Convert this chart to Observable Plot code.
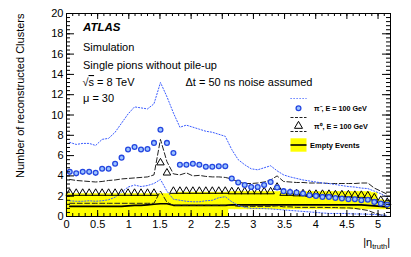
<!DOCTYPE html>
<html><head><meta charset="utf-8">
<script src="https://cdn.jsdelivr.net/npm/d3@7"></script>
<script src="https://cdn.jsdelivr.net/npm/@observablehq/plot@0.6"></script>
<style>html,body{margin:0;padding:0;background:#fff;} #chart{width:411px;height:257px;overflow:hidden}</style>
</head><body><div id="chart"></div>
<script>
// |eta_truth| bin centres (50 bins, 0 .. 5.2)
const eta = [0.052,0.156,0.26,0.364,0.468,0.572,0.676,0.78,0.884,0.988,1.092,1.196,1.3,1.404,1.508,1.612,1.716,1.82,1.924,2.028,2.132,2.236,2.34,2.444,2.548,2.652,2.756,2.86,2.964,3.068,3.172,3.276,3.38,3.484,3.588,3.692,3.796,3.9,4.004,4.108,4.212,4.316,4.42,4.524,4.628,4.732,4.836,4.94,5.044,5.148];
const halfBin = 0.052;
// pi-, E = 100 GeV : mean and +/- RMS lines
const piMean = [4.4,4.25,4.4,4.4,4.3,4.7,4.7,5.2,5.8,6.6, 6.85,6.6,6.65,7.25,8.55,7.25,6.25,5.1,5.1,5.2, 5.1,4.9,4.9,4.95,4.95,3.75,3.35,3.1,2.9,2.9, 3.1,3.4,2.85,2.5,2.42,2.36,2.27,2.1,2.03,1.93, 1.93,1.83,1.77,1.7,1.7,1.6,1.65,1.44,1.28,1.18];
const piHi = [7.3,7.1,7.2,7.2,7.0,7.6,7.7,8.3,9.2,10.1, 10.8,10.7,10.6,11.1,13.2,11.8,10.2,8.8,9.0,8.8, 8.6,8.4,8.3,8.1,7.9,6.6,5.6,5.1,4.7,4.6, 4.8,5.0,4.5,4.1,3.9,3.75,3.6,3.5,3.4,3.3, 3.25,3.15,3.05,2.95,2.9,2.8,2.75,2.5,2.25,1.9];
const piLo = [1.55,1.5,1.5,1.55,1.5,1.55,1.65,1.9,2.4,2.9, 3.1,2.95,3.05,3.25,3.65,2.5,1.7,1.6,1.5,1.45, 1.45,1.55,1.6,1.85,1.95,1.45,1.1,0.9,0.8,0.8, 0.78,0.75,0.7,0.65,0.6,0.55,0.5,0.45,0.4,0.35, 0.3,0.3,0.3,0.28,0.25,0.25,0.22,0.2,0.15,0.12];
// pi0, E = 100 GeV
const pi0Mean = [2.3,2.3,2.3,2.3,2.3,2.3,2.3,2.3,2.3,2.3, 2.3,2.3,2.3,2.3,5.3,4.3,2.5,2.5,2.5,2.5, 2.5,2.5,2.5,2.5,2.5,2.45,2.45,2.45,2.45,2.45, 2.45,2.45,2.9,2.3,2.3,2.25,2.25,2.2,2.2,2.2, 2.2,2.15,2.15,2.15,2.1,2.1,2.05,1.85,1.6,1.4];
const pi0Hi = [3.65,3.55,3.5,3.45,3.4,3.45,3.55,3.6,3.7,3.75, 3.8,3.85,3.9,4.1,7.6,5.4,4.2,4.1,4.3,4.0, 4.05,3.95,3.9,3.9,3.85,3.7,3.4,3.25,3.25,3.3, 3.4,3.6,4.0,3.45,3.4,3.35,3.35,3.3,3.3,3.3, 3.25,3.25,3.25,3.25,3.25,3.3,3.3,2.8,2.5,2.2];
const pi0Lo = [1.3,1.3,1.3,1.3,1.3,1.3,1.3,1.3,1.3,1.3, 1.3,1.3,1.3,1.3,2.5,1.4,1.1,1.1,1.1,1.1, 1.1,1.1,1.1,1.1,1.1,1.1,1.0,1.0,1.0,1.0, 1.0,1.0,1.05,0.95,0.95,0.9,0.9,0.9,0.9,0.9, 0.88,0.88,0.85,0.85,0.8,0.7,0.6,0.35,0.15,0.0];
// Empty events: mean and RMS band
const emptyMean = [1.0,1.0,1.0,1.0,1.0,1.0,1.0,1.0,1.0,1.05, 1.1,1.1,1.15,1.2,1.25,1.25,1.1,1.1,1.1,1.1, 1.1,1.1,1.1,1.1,1.1,1.15,1.15,1.15,1.15,1.15, 1.15,1.15,1.15,1.15,1.15,1.15,1.15,1.15,1.15,1.15, 1.15,1.15,1.15,1.15,1.15,1.15,1.1,1.05,1.0,0.95];
const emptyHi = [2.2,2.2,2.2,2.2,2.2,2.2,2.2,2.2,2.2,2.2, 2.2,2.2,2.2,2.2,2.2,2.2,2.2,2.35,2.35,2.35, 2.35,2.35,2.35,2.35,2.35,2.4,2.4,2.4,2.4,2.4, 2.4,2.4,2.4,2.4,2.4,2.4,2.4,2.4,2.4,2.4, 2.4,2.4,2.4,2.4,2.4,2.4,2.4,2.3,1.6,1.5];
const emptyLo = [0,0,0,0,0,0,0,0,0,0, 0,0,0,0,0,0,0,0,0,0, 0,0,0,0,0,0.7,0.7,0.7,0.7,0.7, 0.7,0.7,0.7,0.7,0.7,0.7,0.7,0.7,0.7,0.7, 0.7,0.7,0.7,0.7,0.7,0.7,0.7,0.7,0.7,0.7];
// axes
const xTicks = [0,0.5,1,1.5,2,2.5,3,3.5,4,4.5,5];
const xTickLabels = ["0","0.5","1","1.5","2","2.5","3","3.5","4","4.5","5"];
const yTicks = [0,2,4,6,8,10,12,14,16,18,20];
const yTickLabels = ["0","2","4","6","8","10","12","14","16","18","20"];
const xDomain = [0, 5.2], yDomain = [0, 20];

const rows = eta.map((x, i) => ({x, x1: x - halfBin, x2: x + halfBin,
  piMean: piMean[i], piHi: piHi[i], piLo: piLo[i],
  pi0Mean: pi0Mean[i], pi0Hi: pi0Hi[i], pi0Lo: pi0Lo[i],
  eMean: emptyMean[i], eHi: emptyHi[i], eLo: emptyLo[i]}));

const xMinor = d3.range(0, 5.2001, 0.1).map(v => +v.toFixed(2));
const yMinor = d3.range(0, 20.001, 0.4).map(v => +v.toFixed(2));
const W = 411, H = 257, mL = 66, mR = 21, mT = 13, mB = 41;
const fw = W - mL - mR, fh = H - mT - mB;
const blue = "#3a5cff";
const xLab = new Map(xTicks.map((t, i) => [t, xTickLabels[i]]));
const yLab = new Map(yTicks.map((t, i) => [t, yTickLabels[i]]));
const font = "'Liberation Sans', Arial, Helvetica, sans-serif";

const chart = Plot.plot({
  width: W, height: H, marginLeft: mL, marginRight: mR, marginTop: mT, marginBottom: mB,
  x: {domain: xDomain}, y: {domain: yDomain},
  style: {fontFamily: font, fontSize: "11px", background: "white", color: "black"},
  marks: [
    Plot.rectY(rows, {x1: "x1", x2: "x2", y1: "eLo", y2: "eHi", fill: "#ffff00", stroke: "#ffff00", strokeWidth: 0.6}),
    Plot.line(rows, {x: "x", y: "eMean", stroke: "black", strokeWidth: 1.6}),
    Plot.line(rows, {x: "x", y: "pi0Hi", stroke: "#222", strokeWidth: 1, strokeDasharray: "5,2.5"}),
    Plot.line(rows, {x: "x", y: "pi0Lo", stroke: "#222", strokeWidth: 1, strokeDasharray: "5,2.5"}),
    Plot.line(rows, {x: "x", y: "piHi", stroke: blue, strokeWidth: 1, strokeDasharray: "1.2,1.8"}),
    Plot.line(rows, {x: "x", y: "piLo", stroke: blue, strokeWidth: 1, strokeDasharray: "1.2,1.8"}),
    Plot.dot(rows, {x: "x", y: "pi0Mean", symbol: "triangle", r: 2.8, stroke: "black", fill: "none", strokeWidth: 1}),
    Plot.dot(rows, {x: "x", y: "piMean", r: 2.4, stroke: "#2446e0", fill: "#9cc4ff", strokeWidth: 1.3}),
    Plot.frame({stroke: "black", strokeWidth: 1}),
    // inward ticks on all four sides
    Plot.tickY(yTicks, {y: d => d, insetRight: fw - 8, stroke: "black"}),
    Plot.tickY(yMinor, {y: d => d, insetRight: fw - 4, stroke: "black"}),
    Plot.tickY(yTicks, {y: d => d, insetLeft: fw - 8, stroke: "black"}),
    Plot.tickY(yMinor, {y: d => d, insetLeft: fw - 4, stroke: "black"}),
    Plot.tickX(xTicks, {x: d => d, insetTop: fh - 6, stroke: "black"}),
    Plot.tickX(xMinor, {x: d => d, insetTop: fh - 3, stroke: "black"}),
    Plot.tickX(xTicks, {x: d => d, insetBottom: fh - 6, stroke: "black"}),
    Plot.tickX(xMinor, {x: d => d, insetBottom: fh - 3, stroke: "black"}),
    Plot.axisX({ticks: xTicks, tickSize: 0, tickPadding: 4, tickFormat: d => xLab.get(d), label: null, fontSize: 11}),
    Plot.axisY({ticks: yTicks, tickSize: 0, tickPadding: 3, tickFormat: d => yLab.get(d), label: null, fontSize: 11}),
    Plot.text(["Number of reconstructed Clusters"], {frameAnchor: "top-left", dx: -46, text: d => d, rotate: -90, textAnchor: "end", lineAnchor: "middle", fontSize: 11}),
    Plot.text(["ATLAS"], {frameAnchor: "top-left", dx: 16.5, dy: 13.7, text: d => d, textAnchor: "start", lineAnchor: "middle", fontSize: 11.5, fontWeight: "bold", fontStyle: "italic"}),
    Plot.text(["Simulation"], {frameAnchor: "top-left", dx: 16.5, dy: 33.7, text: d => d, textAnchor: "start", lineAnchor: "middle", fontSize: 11}),
    Plot.text(["Single pions without pile-up"], {frameAnchor: "top-left", dx: 16.5, dy: 52, text: d => d, textAnchor: "start", lineAnchor: "middle", fontSize: 11}),
    Plot.text(["\u03bc = 30"], {frameAnchor: "top-left", dx: 16.5, dy: 85.3, text: d => d, textAnchor: "start", lineAnchor: "middle", fontSize: 11}),
    Plot.text(["\u0394t = 50 ns noise assumed"], {frameAnchor: "top-left", dx: 119, dy: 69, text: d => d, textAnchor: "start", lineAnchor: "middle", fontSize: 11})
  ]
});
document.getElementById("chart").appendChild(chart);

// annotations needing tspans and the legend
const svg = d3.select(chart);
const g = svg.append("g").attr("font-family", font).attr("fill", "black").attr("text-anchor", "start");
const rs = g.append("text").attr("x", 82.5).attr("y", 86).attr("font-size", 11);
rs.append("tspan").text("\u221a");
rs.append("tspan").attr("style", "text-decoration: overline").text("s");
rs.append("tspan").text(" = 8 TeV");

const xl = g.append("text").attr("x", 390).attr("y", 246).attr("text-anchor", "end").attr("font-size", 11);
xl.append("tspan").text("|\u03b7");
xl.append("tspan").attr("font-size", 7.5).attr("dy", 3).text("truth");
xl.append("tspan").attr("dy", -3).text("|");

// legend
const lx0 = 290.5, lx1 = 306.5, lc = 298.5, tx = 314;
g.append("line").attr("x1", lx0).attr("x2", lx1).attr("y1", 98.5).attr("y2", 98.5).attr("stroke", blue).attr("stroke-dasharray", "1.2,1.8");
g.append("circle").attr("cx", lc).attr("cy", 108.3).attr("r", 2.4).attr("stroke", "#2446e0").attr("fill", "#9cc4ff").attr("stroke-width", 1.3);
g.append("text").attr("x", tx).attr("y", 111).attr("font-size", 7.2).attr("font-weight", "bold").text("\u03c0\u207b, E = 100 GeV");
g.append("line").attr("x1", lx0).attr("x2", lx1).attr("y1", 117.5).attr("y2", 117.5).attr("stroke", "#222").attr("stroke-dasharray", "3,1.5");
g.append("path").attr("d", d3.symbol(d3.symbolTriangle, 28)()).attr("transform", `translate(${lc},126)`).attr("fill", "none").attr("stroke", "black");
g.append("text").attr("x", tx).attr("y", 129).attr("font-size", 7.2).attr("font-weight", "bold").text("\u03c0\u2070, E = 100 GeV");
g.append("line").attr("x1", lx0).attr("x2", lx1).attr("y1", 131.5).attr("y2", 131.5).attr("stroke", "#222").attr("stroke-dasharray", "3,1.5");
g.append("rect").attr("x", lx0).attr("y", 138.3).attr("width", lx1 - lx0).attr("height", 13.4).attr("fill", "#ffff00");
g.append("line").attr("x1", lx0).attr("x2", lx1).attr("y1", 145).attr("y2", 145).attr("stroke", "black").attr("stroke-width", 1.6);
g.append("text").attr("x", 310).attr("y", 147.6).attr("font-size", 7.5).attr("font-weight", "bold").text("Empty Events");
</script></body></html>
